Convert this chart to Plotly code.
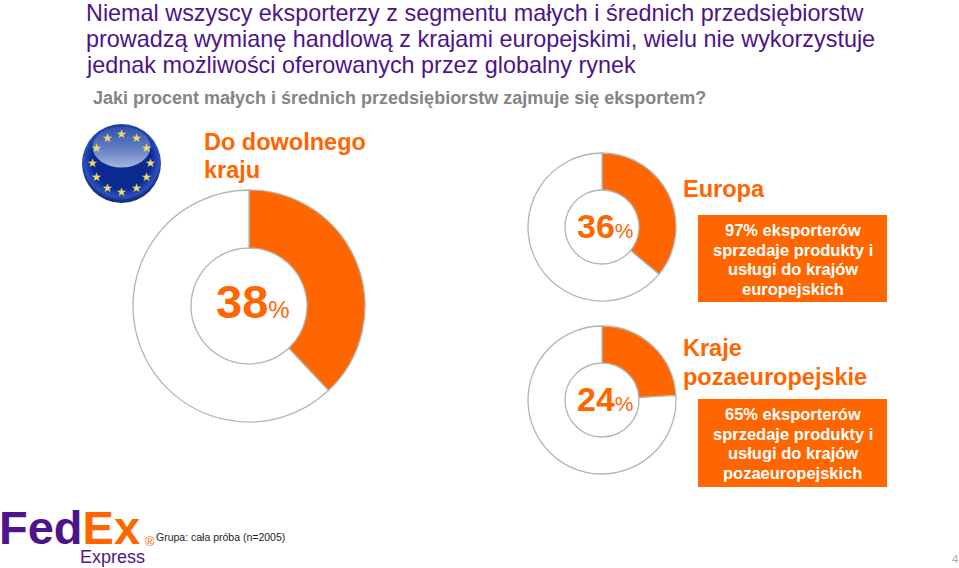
import base64
import plotly.graph_objects as go

W, H = 959, 568
ORANGE = "#FF6600"
TITLE = "#4D148C"
GREY = "#B4B4B4"

donut_values = [38, 36, 24]
donut_labels = ["38", "36", "24"]
donut_rest = ["eksport", "brak"]
title_lines = [
    "Niemal wszyscy eksporterzy z segmentu małych i średnich przedsiębiorstw",
    "prowadzą wymianę handlową z krajami europejskimi, wielu nie wykorzystuje",
    "jednak możliwości oferowanych przez globalny rynek",
]
subtitle = "Jaki procent małych i średnich przedsiębiorstw zajmuje się eksportem?"
headings = ["Do dowolnego", "kraju", "Europa", "Kraje", "pozaeuropejskie"]
heading_xy = [(204, 142), (204, 170), (683, 189), (683, 348), (683, 377)]
box_texts = [
    "97% eksporterów<br>sprzedaje produkty i<br>usługi do krajów<br>europejskich",
    "65% eksporterów<br>sprzedaje produkty i<br>usługi do krajów<br>pozaeuropejskich",
]

def px(x): return x / W
def py(y): return 1 - y / H

fig = go.Figure()
geom = [(249, 306, 116), (602, 227, 74), (602, 400, 74)]
for v, (cx, cy, r) in zip(donut_values, geom):
    fig.add_trace(go.Pie(
        values=[v, 100 - v], labels=donut_rest, hole=0.5, sort=False,
        direction="clockwise", rotation=0, textinfo="none", hoverinfo="skip",
        marker=dict(colors=[ORANGE, "white"], line=dict(color=GREY, width=1.3)),
        domain=dict(x=[px(cx - r), px(cx + r)], y=[py(cy + r), py(cy - r)]),
        showlegend=False))

ann = []
def text(x, y, t, size, color, anchor="left", bold=False, font="Liberation Sans"):
    x = x - 2 if anchor == "left" else x
    ann.append(dict(x=px(x), y=py(y), xref="paper", yref="paper", text=f"<b>{t}</b>" if bold else t,
                    showarrow=False, xanchor=anchor, yanchor="middle", align=anchor,
                    font=dict(size=size, color=color, family=font)))

for y, t in zip([13, 39, 65], title_lines):
    text(86, y, t, 23.4, TITLE)
text(93, 98, subtitle, 18, "#858585", bold=True)
for (x, y), t in zip(heading_xy, headings):
    text(x, y, t, 23.5, ORANGE, bold=True)

for (cx, cy, r), lab in zip(geom, donut_labels):
    big = r > 100
    s1 = 47 if big else 34
    s2 = 24 if big else 21
    ann.append(dict(x=px(cx + (4 if big else 3)), y=py(cy - 5 if big else cy - 1), xref="paper", yref="paper",
                    text=f"<b style='font-size:{s1}px'>{lab}</b><span style='font-size:{s2}px'>%</span>",
                    showarrow=False, xanchor="center", yanchor="middle",
                    font=dict(color=ORANGE, family="Liberation Sans")))

shapes = []
for (x0, y0, x1, y1), t, cy in zip([(698, 215, 887, 302), (698, 399, 887, 487)], box_texts, [259, 443]):
    shapes.append(dict(type="rect", xref="paper", yref="paper", x0=px(x0), x1=px(x1), y0=py(y1), y1=py(y0),
                       fillcolor=ORANGE, line_width=0))
    for i, ln in enumerate(t.split("<br>")):
        text(792.5, cy - 29 + 19.5 * i, ln, 16.5, "white", anchor="center", bold=True)

# EU badge: gradient disc as an SVG picture, stars as text on top
badge_svg = """<svg xmlns='http://www.w3.org/2000/svg' width='79' height='79' viewBox='0 0 79 79'>
<defs>
<radialGradient id='b' cx='50%' cy='45%' r='52%'>
<stop offset='0%' stop-color='#0A2A92'/><stop offset='72%' stop-color='#0A2A92'/>
<stop offset='92%' stop-color='#2C50BC'/><stop offset='100%' stop-color='#16307F'/></radialGradient>
<linearGradient id='h' x1='0' y1='0' x2='0' y2='1'>
<stop offset='0%' stop-color='#2F4FAE'/><stop offset='55%' stop-color='#6480C2'/>
<stop offset='100%' stop-color='#A4B5DC'/></linearGradient>
</defs>
<circle cx='39.5' cy='39.5' r='39.5' fill='url(#b)'/>
<ellipse cx='39.5' cy='23' rx='29' ry='20.5' fill='url(#h)'/>
</svg>"""
badge_uri = "data:image/svg+xml;base64," + base64.b64encode(badge_svg.encode()).decode()
images = [dict(source=badge_uri, xref="paper", yref="paper", x=px(82), y=py(124), sizex=79 / W, sizey=79 / H,
               xanchor="left", yanchor="top", layer="above")]
star_xy = [(121, 134), (136, 138), (146, 148), (150, 163), (146, 177), (136, 188),
           (121, 192), (107, 188), (96, 177), (92, 163), (96, 148), (107, 138)]
for x, y in star_xy:
    text(x, y, "★", 12, "#F3DC5B", anchor="center", font="DejaVu Sans")

# FedEx wordmark
ann.append(dict(x=px(-3), y=py(527), xref="paper", yref="paper", showarrow=False, xanchor="left", yanchor="middle",
                text="<b><span style='color:#4D148C'>Fed</span><span style='color:#FF6600'>Ex</span></b>",
                font=dict(size=47, family="Liberation Sans")))
text(80, 557, "Express", 18, "#4D148C")
text(150, 541, "®", 13, ORANGE, anchor="center")
text(156, 537, "Grupa: cała próba (n=2005)", 10.5, "#222222")
text(955, 559, "4", 11, "#9AA6D0", anchor="center")

fig.update_layout(width=W, height=H, margin=dict(l=0, r=0, t=0, b=0), paper_bgcolor="white",
                  annotations=ann, shapes=shapes, images=images, showlegend=False)
fig.write_html("out.html", config={"displayModeBar": False}, post_script="document.body.style.margin='0';")
